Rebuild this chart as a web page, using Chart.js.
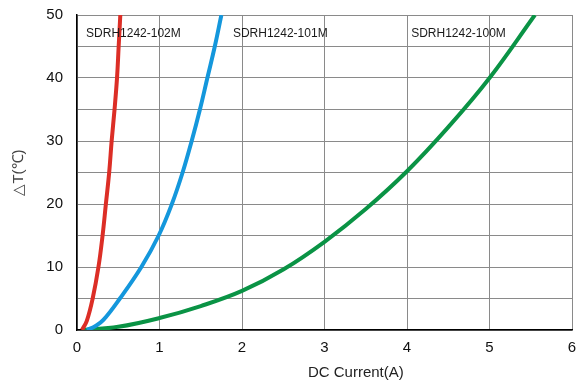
<!DOCTYPE html>
<html>
<head>
<meta charset="utf-8">
<script src="https://cdn.jsdelivr.net/npm/chart.js@4/dist/chart.umd.min.js"></script>
<style>
  html, body { margin: 0; padding: 0; background: #fff; }
  #wrap { width: 585px; height: 382px; }
</style>
</head>
<body>
<div id="wrap"><canvas id="chart" width="585" height="382"></canvas></div>
<script>
// values (x = DC current in A, y = temperature rise)
const seriesNames = ['SDRH1242-102M', 'SDRH1242-101M', 'SDRH1242-100M'];

const redX = [0.06, 0.12, 0.19, 0.26, 0.31, 0.35, 0.39, 0.42, 0.455, 0.485, 0.505, 0.525];
const redY = [0, 1.5, 5, 10, 15, 20, 25, 30, 35, 40, 45, 50];

const blueX = [0.12, 0.22, 0.32, 0.52, 0.78, 0.99, 1.15, 1.28, 1.39, 1.49, 1.58, 1.67, 1.75];
const blueY = [0, 0.6, 1.6, 5, 10, 15, 20, 25, 30, 35, 40, 45, 50];

const greenX = [0.07, 0.5, 1, 1.5, 2, 2.5, 3, 3.5, 4, 4.5, 5, 5.55];
const greenY = [0, 0.5, 1.9, 3.8, 6.2, 9.6, 14, 19.2, 25.2, 32.2, 40, 50];

const xTicks = [0, 1, 2, 3, 4, 5, 6];
const yTicks = [0, 10, 20, 30, 40, 50];

const FONT = '"Liberation Sans", Arial, Helvetica, sans-serif';

function toPoints(xs, ys) {
    return xs.map((x, i) => ({ x: x, y: ys[i] }));
}

// where the series names sit, in data units
const labelSpots = [
    { x: 0.11, y: 47.0 },
    { x: 1.89, y: 47.0 },
    { x: 4.05, y: 47.0 }
];

const textPlugin = {
    id: 'texts',
    afterDraw(chart) {
        const ctx = chart.ctx;
        const xs = chart.scales.x;
        const ys = chart.scales.y;
        ctx.save();
        ctx.fillStyle = '#1a1a1a';
        ctx.font = '12px ' + FONT;
        ctx.textBaseline = 'middle';
        ctx.textAlign = 'left';
        seriesNames.forEach((name, i) => {
            ctx.fillText(name, xs.getPixelForValue(labelSpots[i].x), ys.getPixelForValue(labelSpots[i].y));
        });
        // x axis title sits right of centre in the original
        ctx.font = '15px ' + FONT;
        ctx.textAlign = 'center';
        ctx.fillStyle = '#222';
        ctx.fillText('DC Current(A)', xs.getPixelForValue(3.38), chart.chartArea.bottom + 43);
        ctx.restore();
    }
};

const lineStyle = {
    showLine: true,
    pointRadius: 0,
    borderWidth: 4,
    tension: 0.4,
    fill: false
};

new Chart(document.getElementById('chart').getContext('2d'), {
    type: 'scatter',
    data: {
        datasets: [
            Object.assign({ label: seriesNames[0], data: toPoints(redX, redY), borderColor: '#dc2e26' }, lineStyle),
            Object.assign({ label: seriesNames[1], data: toPoints(blueX, blueY), borderColor: '#1497dc' }, lineStyle),
            Object.assign({ label: seriesNames[2], data: toPoints(greenX, greenY), borderColor: '#0a9345' }, lineStyle)
        ]
    },
    options: {
        responsive: false,
        animation: false,
        layout: { padding: { top: 15, right: 13, left: 0, bottom: 0 } },
        plugins: {
            legend: { display: false },
            tooltip: { enabled: false }
        },
        scales: {
            x: {
                type: 'linear',
                min: 0,
                max: 6,
                afterFit: s => { s.height = 52; s.paddingLeft = 0; s.paddingRight = 0; },
                afterBuildTicks: s => { s.ticks = xTicks.map(v => ({ value: v })); },
                ticks: {
                    padding: 9,
                    color: '#111',
                    font: { family: FONT, size: 15 },
                    maxRotation: 0
                },
                grid: { color: '#8a8a8a', lineWidth: 1, drawTicks: false },
                border: { color: '#000', width: 1.5 }
            },
            y: {
                type: 'linear',
                min: 0,
                max: 50,
                afterFit: s => { s.width = 77; s.paddingTop = 0; s.paddingBottom = 0; },
                ticks: {
                    stepSize: 5,
                    padding: 14,
                    color: '#111',
                    font: { family: FONT, size: 15 },
                    callback: v => yTicks.includes(v) ? String(v) : ''
                },
                grid: { color: '#8a8a8a', lineWidth: 1, drawTicks: false },
                border: { color: '#000', width: 1.5 },
                title: {
                    display: true,
                    text: '△T(℃)',
                    color: '#444',
                    font: { family: FONT, size: 15 },
                    padding: { top: 10, bottom: 0 }
                }
            }
        }
    },
    plugins: [textPlugin]
});
</script>
</body>
</html>
